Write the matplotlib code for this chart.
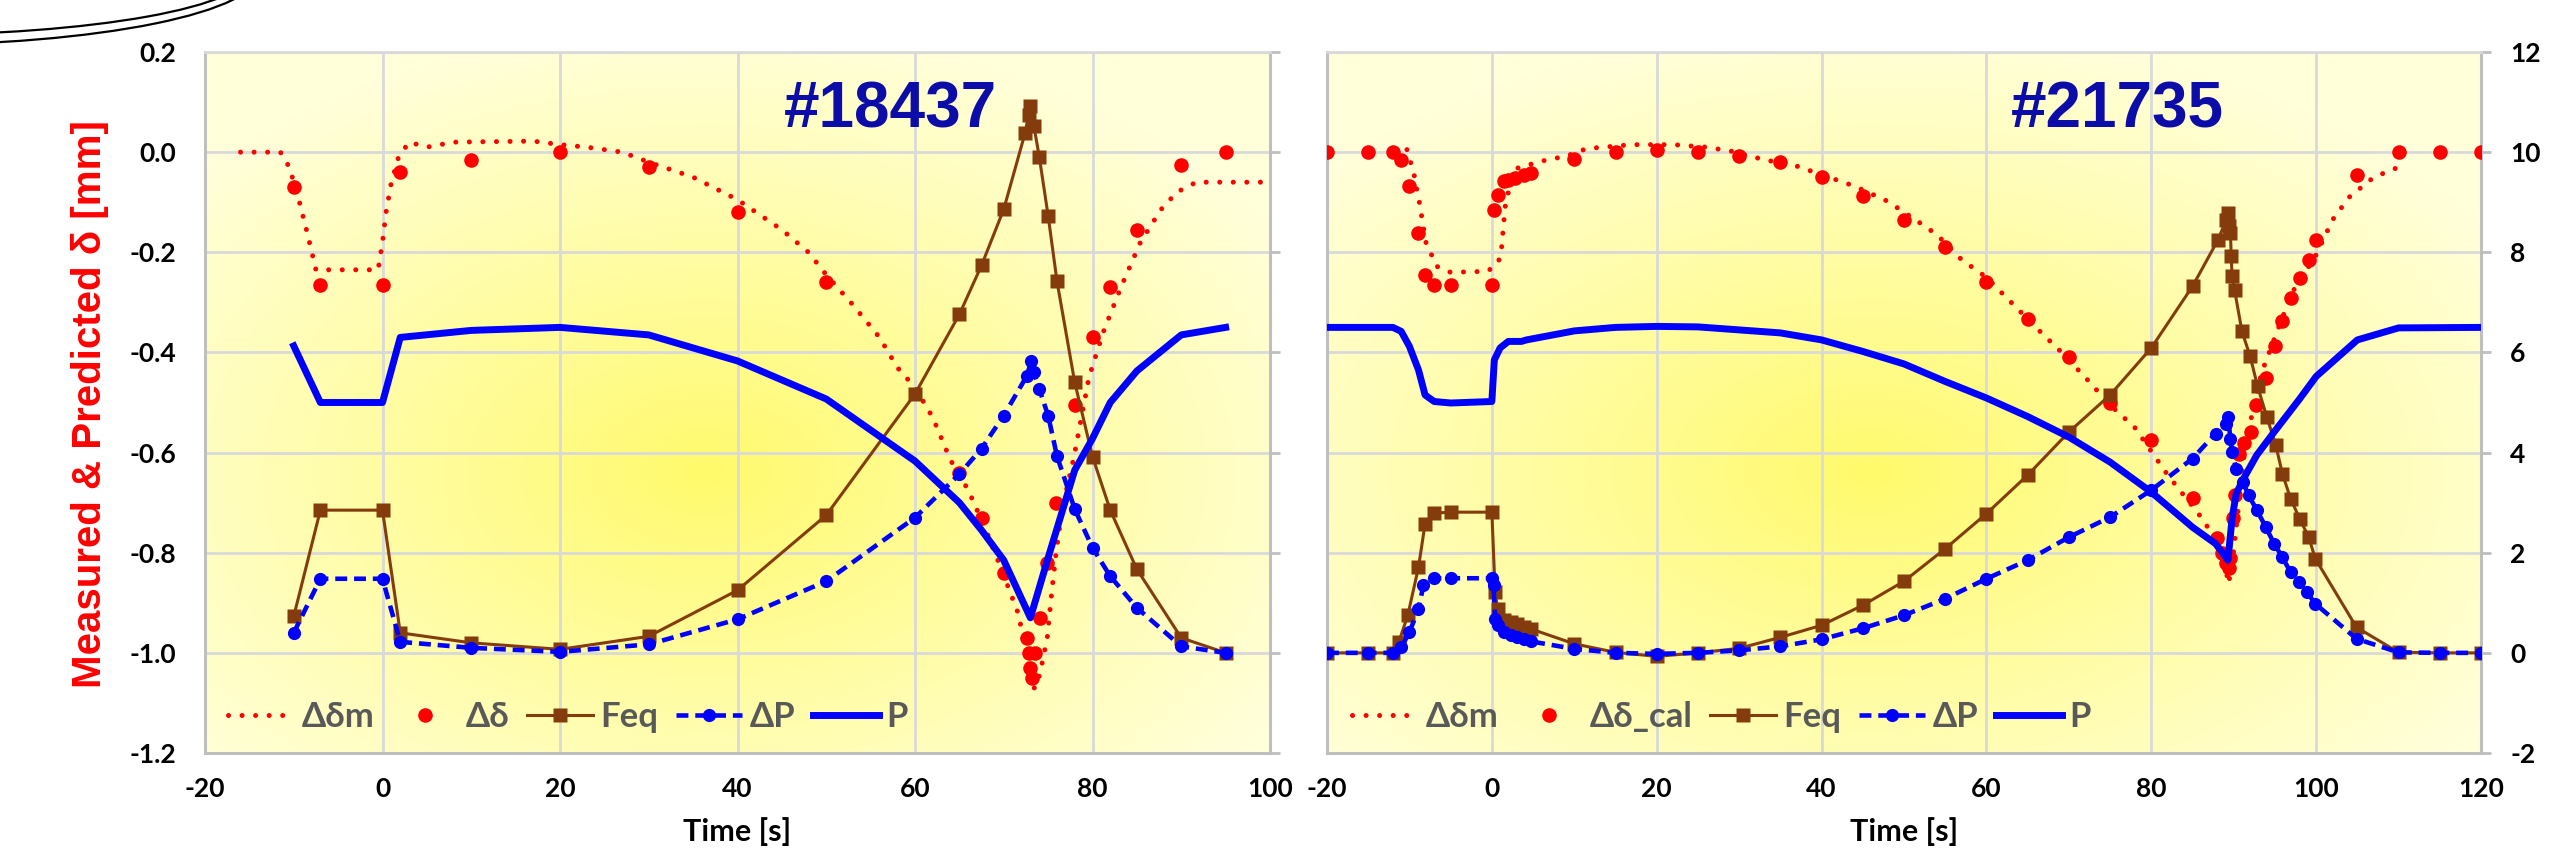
import numpy as np
import matplotlib.pyplot as plt
from matplotlib.patches import Ellipse
from matplotlib.ticker import FormatStrFormatter

plt.rcParams['font.family'] = ['Lato', 'DejaVu Sans']
plt.rcParams['axes.unicode_minus'] = False

# ---- shot #18437 (left panel, mm) ----
t_dm1 = [-16, -11.5, -10.5, -9.5, -8.5, -7.5, -0.5, 0.0, 0.4, 1.0, 1.8, 3.0, 5, 8, 17, 20, 23, 27,
         30, 35, 40, 45, 48, 50, 53, 56, 58, 60, 62, 64, 66, 68, 70, 71.6, 72.6, 73.1, 73.6, 74.1,
         74.9, 75.4, 75.9, 76.6, 77.9, 79.6, 81.2, 83.2, 85.4, 87.7, 89.5, 91.7, 100]
dm1 = [0.0, 0.0, -0.03, -0.09, -0.16, -0.235, -0.235, -0.18, -0.12, -0.06, -0.01, 0.02, 0.01, 0.02,
       0.022, 0.015, 0.01, 0.0, -0.02, -0.05, -0.095, -0.155, -0.2, -0.245, -0.305, -0.37, -0.43,
       -0.47, -0.53, -0.615, -0.675, -0.755, -0.845, -0.92, -1.0, -1.07, -1.07, -1.04, -0.97, -0.88,
       -0.80, -0.71, -0.61, -0.45, -0.36, -0.27, -0.18, -0.115, -0.08, -0.06, -0.06]

t_d1 = [-10, -7, 0, 2, 10, 20, 30, 40, 50, 65, 67.5, 70, 72.6, 72.8, 73.0, 73.2, 73.5, 74.1, 74.9,
        75.9, 78, 80, 82, 85, 90, 95]
d1 = [-0.07, -0.265, -0.265, -0.04, -0.015, 0.0, -0.03, -0.12, -0.26, -0.64, -0.73, -0.84, -0.97,
      -1.0, -1.03, -1.05, -1.0, -0.93, -0.82, -0.70, -0.505, -0.37, -0.27, -0.155, -0.025, 0.0]

t_f1 = [-10, -7, 0, 2, 10, 20, 30, 40, 50, 60, 65, 67.5, 70, 72.4, 72.8, 73.0, 73.4, 74, 75, 76,
        78, 80, 82, 85, 90, 95]
feq1 = [-0.927, -0.715, -0.715, -0.96, -0.98, -0.993, -0.967, -0.875, -0.725, -0.483, -0.324,
        -0.226, -0.114, 0.038, 0.074, 0.092, 0.052, -0.009, -0.127, -0.258, -0.46, -0.608, -0.715,
        -0.833, -0.97, -1.0]

t_p1 = [-10, -7, 0, 2, 10, 20, 30, 40, 50, 60, 65, 67.5, 70, 72.6, 73.1, 73.4, 74, 75, 76, 78, 80,
        82, 85, 90, 95]
dp1 = [-0.96, -0.852, -0.852, -0.978, -0.99, -0.998, -0.983, -0.933, -0.857, -0.73, -0.643, -0.592,
       -0.526, -0.447, -0.417, -0.44, -0.473, -0.526, -0.607, -0.713, -0.79, -0.847, -0.91, -0.987,
       -1.0]

t_P1 = [-10, -7, 0, 2, 10, 20, 30, 40, 50, 60, 65, 67.5, 70, 73, 75, 78, 80, 82, 85, 90, 95]
P1 = [-0.387, -0.5, -0.5, -0.37, -0.356, -0.35, -0.365, -0.417, -0.493, -0.617, -0.70, -0.755,
      -0.815, -0.93, -0.81, -0.635, -0.572, -0.5, -0.437, -0.365, -0.35]

# ---- shot #21735 (right panel) ----
t_dm2 = [-10.3, -9.5, -8.8, -8.0, -6.7, -5, -0.5, 0.8, 1.2, 1.6, 2.0, 3.1, 6, 9, 11.5, 17, 22, 26,
         29, 33, 37, 40, 44, 48, 52, 54, 57, 60, 63, 66, 69, 72, 75, 78, 82, 86, 88, 89, 89.3, 89.7,
         90.3, 91.3, 92.5, 93.4, 95.1, 97.1, 100, 102, 104, 107, 110]
dm2 = [10.05, 9.6, 9.0, 8.2, 7.72, 7.6, 7.62, 7.8, 8.12, 8.9, 9.2, 9.68, 9.82, 9.92, 10.07, 10.15,
       10.15, 10.1, 10.02, 9.85, 9.72, 9.55, 9.32, 9.02, 8.58, 8.35, 7.85, 7.5, 7.0, 6.5, 6.02, 5.5,
       4.95, 4.5, 3.55, 2.72, 2.22, 1.8, 1.38, 1.6, 2.5, 4.0, 5.0, 5.6, 6.35, 7.2, 7.95, 8.65, 9.1,
       9.5, 9.7]

t_d2 = [-20, -15, -12, -11, -10, -8.9, -8.1, -7, -5, 0, 0.3, 0.8, 1.5, 2.0, 2.8, 3.9, 4.7, 10, 15,
        20, 25, 30, 35, 40, 45, 50, 55, 60, 65, 70, 75, 80, 85, 88, 88.6, 89.1, 89.4, 89.6, 89.9,
        90.1, 90.6, 91.2, 92.1, 92.7, 93.9, 95.0, 95.9, 96.9, 98.0, 99.1, 100, 105, 110, 115, 120]
d2 = [10, 10, 10, 9.85, 9.32, 8.39, 7.55, 7.35, 7.34, 7.34, 8.85, 9.15, 9.42, 9.45, 9.48, 9.55,
      9.59, 9.87, 10.0, 10.04, 10.0, 9.92, 9.8, 9.5, 9.12, 8.65, 8.1, 7.4, 6.67, 5.9, 5.0, 4.25,
      3.1, 2.3, 2.0, 1.8, 1.7, 1.9, 2.7, 3.15, 3.98, 4.2, 4.41, 4.95, 5.49, 6.12, 6.62, 7.09, 7.49,
      7.85, 8.25, 9.55, 10, 10, 10]

t_f2 = [-20, -15, -12, -11.3, -10.2, -8.9, -8.1, -7, -5, 0, 0.4, 0.7, 1.5, 2.3, 3.1, 3.9, 4.7, 10,
        15, 20, 25, 30, 35, 40, 45, 50, 55, 60, 65, 70, 75, 80, 85, 88.1, 89.1, 89.3, 89.4, 89.6,
        89.7, 89.8, 90.1, 91, 92, 92.9, 94, 95.1, 95.9, 96.9, 98, 99.1, 99.9, 104.9, 110, 115, 120]
feq2 = [0, 0, 0, 0.21, 0.75, 1.71, 2.58, 2.79, 2.81, 2.81, 1.21, 0.88, 0.65, 0.61, 0.58, 0.51, 0.48,
        0.18, 0.01, -0.07, 0.0, 0.09, 0.31, 0.55, 0.95, 1.43, 2.08, 2.78, 3.55, 4.41, 5.15, 6.09,
        7.32, 8.25, 8.65, 8.79, 8.52, 8.39, 7.92, 7.52, 7.25, 6.42, 5.92, 5.32, 4.72, 4.15, 3.58,
        3.08, 2.68, 2.31, 1.88, 0.51, 0.01, 0, 0]

t_p2 = [-20, -15, -12, -11, -10, -8.9, -8.3, -7, -5, 0, 0.2, 0.4, 0.7, 1.5, 2.3, 3.1, 3.9, 4.7, 10,
        15, 20, 25, 30, 35, 40, 45, 50, 55, 60, 65, 70, 75, 80, 85, 87.8, 89.1, 89.3, 89.6, 89.8,
        90.3, 91.1, 91.8, 92.8, 93.9, 94.9, 95.9, 96.9, 97.9, 98.9, 99.9, 104.9, 110, 115, 120]
dp2 = [0, 0, 0, 0.11, 0.41, 0.88, 1.35, 1.49, 1.49, 1.49, 1.35, 0.68, 0.55, 0.41, 0.35, 0.31, 0.28,
       0.23, 0.08, 0, -0.02, 0, 0.05, 0.13, 0.27, 0.49, 0.75, 1.08, 1.48, 1.85, 2.31, 2.71, 3.25,
       3.88, 4.38, 4.58, 4.72, 4.28, 4.01, 3.68, 3.41, 3.15, 2.85, 2.51, 2.18, 1.91, 1.61, 1.41,
       1.21, 0.98, 0.28, 0.01, 0, 0]

t_P2 = [-20, -12, -11, -10, -8.9, -8.1, -7, -5, 0, 0.3, 1.0, 2.0, 3.6, 4.2, 10, 15, 20, 25, 30, 35,
        40, 45, 50, 55, 60, 65, 70, 75, 80, 85, 87.8, 89.3, 89.8, 90.3, 91.3, 92.8, 94.9, 97.9, 100,
        105, 110, 120]
P2 = [6.5, 6.5, 6.42, 6.12, 5.65, 5.15, 5.02, 4.99, 5.02, 5.85, 6.09, 6.22, 6.22, 6.25, 6.43, 6.5,
      6.52, 6.51, 6.45, 6.39, 6.25, 6.02, 5.77, 5.42, 5.09, 4.72, 4.31, 3.81, 3.21, 2.51, 2.18, 1.85,
      2.68, 3.18, 3.51, 3.95, 4.41, 5.05, 5.52, 6.25, 6.49, 6.5]

xticks1 = [-20, 0, 20, 40, 60, 80, 100]
xticks2 = [-20, 0, 20, 40, 60, 80, 100, 120]
yticks1 = [-1.2, -1.0, -0.8, -0.6, -0.4, -0.2, 0.0, 0.2]
yticks2 = [-2, 0, 2, 4, 6, 8, 10, 12]

W, H = 2551, 852
fig = plt.figure(figsize=(W / 100, H / 100), dpi=100)
ax1 = fig.add_axes([205 / W, 99 / H, 1065 / W, 701 / H])
ax2 = fig.add_axes([1327 / W, 99 / H, 1154 / W, 701 / H])

GRIS = '#BFBFBF'
ROJO = '#FF0000'
CAFE = '#843C0C'
AZUL = '#0000FF'


def fondo(ax):
    # radial yellow fill like the spreadsheet plot area
    X, Y = np.meshgrid(np.linspace(0, 1, 300), np.linspace(0, 1, 300))
    r = np.sqrt(((X - 0.47) / 0.64) ** 2 + ((Y - 0.40) / 0.64) ** 2)
    r = np.clip(r, 0, 1)[..., None] ** 0.9
    c0 = np.array([255, 250, 105]) / 255
    c1 = np.array([255, 255, 218]) / 255
    img = c0 * (1 - r) + c1 * r
    ax.imshow(img, extent=(0, 1, 0, 1), transform=ax.transAxes, origin='lower',
              aspect='auto', zorder=0, interpolation='bilinear')


def dibujar(ax, tm, dm, td, dd, tf, fq, tp, dp, tP, P, etiqueta):
    ax.plot(tm, dm, color=ROJO, lw=3.6, ls=(0, (0.01, 2.7)), dash_capstyle='round',
            label='Δδm', zorder=3)
    ax.plot(td, dd, 'o', color=ROJO, ms=10.5, mec='none', label=etiqueta, zorder=4)
    ax.plot(tf, fq, color=CAFE, lw=2.2, marker='s', ms=10.5, mec='none', label='Feq', zorder=5)
    ax.plot(tp, dp, color=AZUL, lw=3.3, ls=(0, (2.6, 1.5)), marker='o', ms=9.5, mec='none',
            label='ΔP', zorder=6)
    ax.plot(tP, P, color=AZUL, lw=5, label='P', zorder=7)


def estilo(ax, xt, yt, derecha):
    fondo(ax)
    ax.set_axisbelow(True)
    ax.grid(True, color='#D9D9D9', lw=2)
    ax.set_xticks(xt)
    ax.set_yticks(yt)
    ax.set_xlim(xt[0], xt[-1])
    ax.set_ylim(yt[0], yt[-1])
    for s in ['left', 'bottom', 'right']:
        ax.spines[s].set_color(GRIS)
        ax.spines[s].set_linewidth(2.2)
    ax.spines['top'].set_color('#D9D9D9')
    ax.spines['top'].set_linewidth(2)
    ax.tick_params(axis='x', length=0, pad=17, labelsize=19, labelcolor='black')
    ax.tick_params(axis='y', length=7, width=2, color=GRIS, direction='out', left=False,
                   right=True, labelleft=not derecha, labelright=derecha, pad=14,
                   labelsize=19, labelcolor='black')
    for lb in ax.get_xticklabels() + ax.get_yticklabels():
        lb.set_fontweight('bold')
    ax.set_xlabel('Time [s]', fontsize=22, fontweight='bold')
    ax.xaxis.set_label_coords(0.5, -0.092)
    leg = ax.legend(loc='center left', bbox_to_anchor=(0.022, 0.051), ncol=5, frameon=False,
                    handlelength=1.9, handletextpad=0.22, columnspacing=0.5,
                    borderaxespad=0, borderpad=0, prop=dict(weight='bold', size=25))
    for tx in leg.get_texts():
        tx.set_color('#595959')


dibujar(ax1, t_dm1, dm1, t_d1, d1, t_f1, feq1, t_p1, dp1, t_P1, P1, 'Δδ')
dibujar(ax2, t_dm2, dm2, t_d2, d2, t_f2, feq2, t_p2, dp2, t_P2, P2, 'Δδ_cal')
estilo(ax1, xticks1, yticks1, False)
estilo(ax2, xticks2, yticks2, True)
ax1.yaxis.set_major_formatter(FormatStrFormatter('%.1f'))

ax1.text(0.644, 0.892, '#18437', transform=ax1.transAxes, ha='center', va='baseline',
         fontsize=46, fontweight='bold', color='#0C0CA8', family='Liberation Sans', zorder=8)
ax2.text(0.685, 0.892, '#21735', transform=ax2.transAxes, ha='center', va='baseline',
         fontsize=46, fontweight='bold', color='#0C0CA8', family='Liberation Sans', zorder=8)

fig.text(90 / W, 1 - 404 / H, 'Measured & Predicted δ [mm]', rotation=90, ha='center',
         va='center', color=ROJO, fontsize=29, fontweight='bold', family='Liberation Sans')

# double curved border cut off in the top-left corner
for a, b in [(720, 146), (700, 126)]:
    fig.add_artist(Ellipse((-100 / W, 1 + 28 / H), a / W, b / H, transform=fig.transFigure,
                           fill=False, ec='black', lw=1.6))

fig.savefig('out.png', dpi=100)
